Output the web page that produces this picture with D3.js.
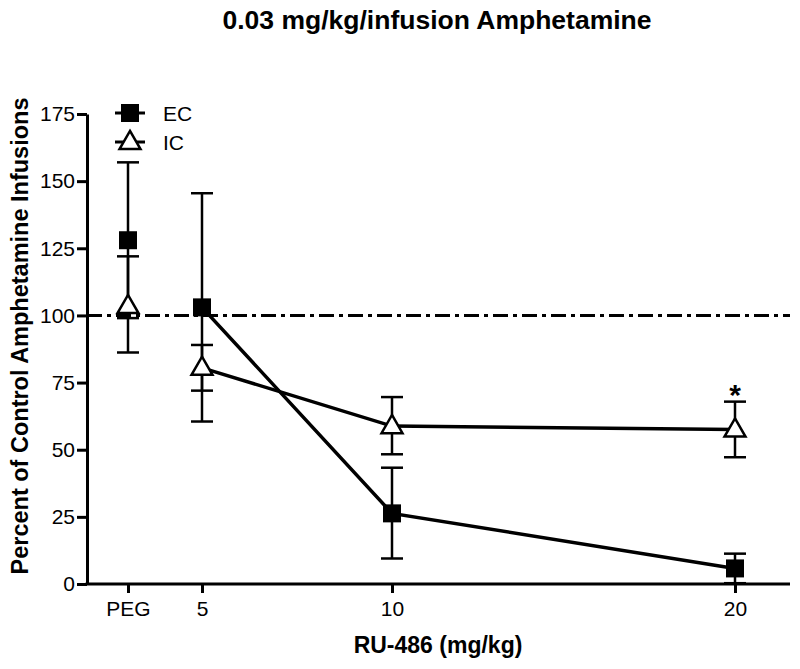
<!DOCTYPE html>
<html>
<head>
<meta charset="utf-8">
<script src="https://cdn.jsdelivr.net/npm/d3@7"></script>
<style>
  body{margin:0;background:#fff}
  text{font-family:"Liberation Sans",Arial,Helvetica,sans-serif}
</style>
</head>
<body>
<svg id="chart" width="800" height="669"></svg>
<script>
// doses along x (PEG drawn as 0)
var doses = [0, 5, 10, 20]
var doseLabels = ["PEG", "5", "10", "20"]
var yTicks = [0, 25, 50, 75, 100, 125, 150, 175]

var ecMean = [128, 103, 26.3, 5.8]
var ecUpper = [157, 145.5, 43.3, 11.3]
var ecLower = [99, 60.5, 9.5, 0.3]

var icMean = [103.5, 80.5, 58.8, 57.5]
var icUpper = [122, 89, 69.6, 67.9]
var icLower = [86.2, 72, 48.3, 47.2]

var starDose = 20

var svg = d3.select("#chart")
var plotLeft = 87, plotRight = 790, plotTop = 114, plotBottom = 584

var y = d3.scaleLinear().domain([0, 175]).range([plotBottom, plotTop])
// axis is not evenly spaced in the original, piecewise linear
var x = d3.scaleLinear().domain(doses).range([128, 202, 392, 735])

// title + labels
svg.append("text").attr("x", 437).attr("y", 29).attr("text-anchor", "middle")
  .style("font-size", "26.5px").style("font-weight", "bold")
  .text("0.03 mg/kg/infusion Amphetamine")
svg.append("text").attr("x", 438).attr("y", 653).attr("text-anchor", "middle")
  .style("font-size", "23px").style("font-weight", "bold")
  .text("RU-486 (mg/kg)")
svg.append("text").attr("transform", "translate(28,336) rotate(-90)")
  .attr("text-anchor", "middle")
  .style("font-size", "23.5px").style("font-weight", "bold")
  .text("Percent of Control Amphetamine Infusions")

// y axis
var yAxis = svg.append("g").attr("transform", "translate(" + plotLeft + ",0)")
  .call(d3.axisLeft(y).tickValues(yTicks).tickSize(10).tickPadding(2).tickSizeOuter(0))
yAxis.select(".domain").attr("stroke-width", 3)
yAxis.selectAll(".tick line").attr("stroke-width", 3)
yAxis.selectAll(".tick text").style("font-size", "21px").style("font-family", "Liberation Sans,Arial,sans-serif")

// x axis
var xAxis = svg.append("g").attr("transform", "translate(0," + plotBottom + ")")
  .call(d3.axisBottom(x).tickValues(doses).tickFormat(function(d, i){ return doseLabels[i] })
    .tickSize(9).tickPadding(8).tickSizeOuter(0))
xAxis.select(".domain").attr("d", "M" + (plotLeft - 1.5) + ",0H" + plotRight).attr("stroke-width", 3)
xAxis.selectAll(".tick line").attr("stroke-width", 3)
xAxis.selectAll(".tick text").style("font-size", "21px").style("font-family", "Liberation Sans,Arial,sans-serif")

// reference line at 100
svg.append("line").attr("x1", plotLeft).attr("x2", plotRight)
  .attr("y1", y(100)).attr("y2", y(100))
  .attr("stroke", "#000").attr("stroke-width", 3)
  .attr("stroke-dasharray", "15,5,4,5")

function drawErr(mean, upper, lower){
  var g = svg.append("g").attr("stroke", "#000").attr("stroke-width", 2.5)
  doses.forEach(function(d, i){
    var cx = x(d)
    g.append("line").attr("x1", cx).attr("x2", cx).attr("y1", y(upper[i])).attr("y2", y(lower[i]))
    g.append("line").attr("x1", cx - 11).attr("x2", cx + 11).attr("y1", y(upper[i])).attr("y2", y(upper[i]))
    g.append("line").attr("x1", cx - 11).attr("x2", cx + 11).attr("y1", y(lower[i])).attr("y2", y(lower[i]))
  })
}

function drawLine(mean, from){
  var pts = doses.map(function(d, i){ return [x(d), y(mean[i])] }).slice(from)
  svg.append("path").attr("d", d3.line()(pts))
    .attr("fill", "none").attr("stroke", "#000").attr("stroke-width", 3.5)
}

drawErr(ecMean, ecUpper, ecLower)
drawErr(icMean, icUpper, icLower)
// PEG is not connected to the dose curve
drawLine(ecMean, 1)
drawLine(icMean, 1)

var tri = d3.symbol().type(d3.symbolTriangle).size(190)
var sq = d3.symbol().type(d3.symbolSquare).size(324)

svg.selectAll(".ic").data(icMean).enter().append("path")
  .attr("transform", function(d, i){ return "translate(" + x(doses[i]) + "," + (y(d) + 1) + ")" })
  .attr("d", tri).attr("fill", "#fff").attr("stroke", "#000").attr("stroke-width", 2.5)
svg.selectAll(".ec").data(ecMean).enter().append("path")
  .attr("transform", function(d, i){ return "translate(" + x(doses[i]) + "," + y(d) + ")" })
  .attr("d", sq).attr("fill", "#000")

// significance star
svg.append("text").attr("x", x(starDose)).attr("y", y(icUpper[3]) + 3)
  .attr("text-anchor", "middle").style("font-size", "30px").style("font-weight", "bold")
  .text("*")

// legend
var legend = [{name: "EC", sym: sq, fill: "#000", ly: 113}, {name: "IC", sym: tri, fill: "#fff", ly: 142}]
legend.forEach(function(l){
  svg.append("line").attr("x1", 115).attr("x2", 145).attr("y1", l.ly).attr("y2", l.ly)
    .attr("stroke", "#000").attr("stroke-width", 3)
  svg.append("path").attr("transform", "translate(130," + (l.ly + (l.fill === "#fff" ? 1 : 0)) + ")")
    .attr("d", l.sym).attr("fill", l.fill).attr("stroke", "#000").attr("stroke-width", l.fill === "#fff" ? 2.5 : 0)
  svg.append("text").attr("x", 163).attr("y", l.ly + 8).style("font-size", "21px").text(l.name)
})
</script>
</body>
</html>
